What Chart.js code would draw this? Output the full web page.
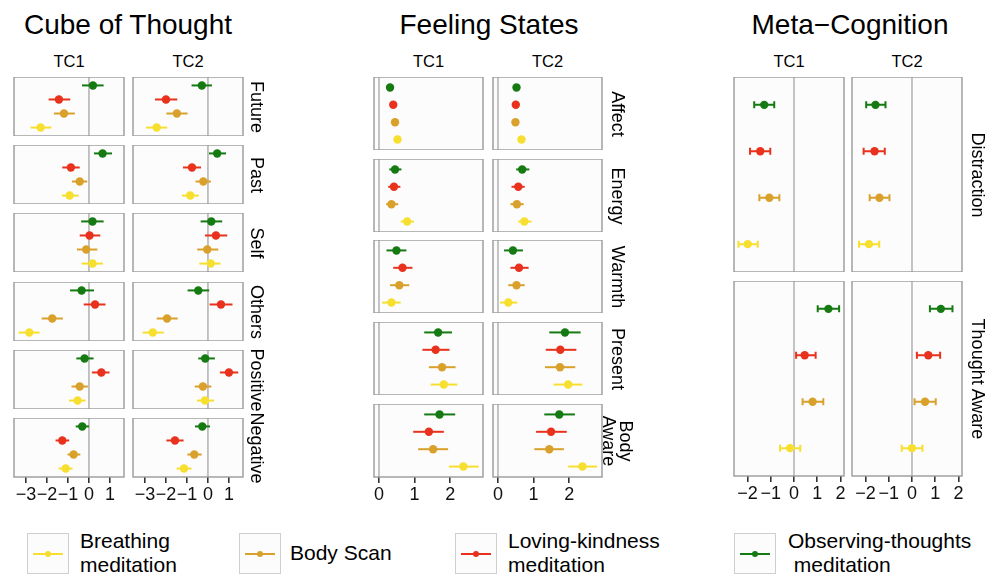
<!DOCTYPE html>
<html>
<head>
<meta charset="utf-8">
<script src="https://cdn.jsdelivr.net/npm/chart.js@4.4.0/dist/chart.umd.min.js"></script>
<style>
  body { margin: 0; background: #fff; font-family: "Liberation Sans", Arial, Helvetica, sans-serif; color: #000; }
  #fig { position: relative; width: 1005px; height: 580px; overflow: hidden; background: #fff; }
  #fig canvas { position: absolute; }
  .lbl { position: absolute; white-space: pre; line-height: 1; transform: translate(-50%, -50%); }
  .title { font-size: 28px; }
  .head { font-size: 16.5px; }
  .strip { font-size: 18px; line-height: 17px; text-align: center; transform: translate(-50%, -50%) rotate(90deg); }
  .key { position: absolute; width: 40px; height: 39px; border: 1px solid #cfcfcf; background: #fcfcfc; }
  .key .ln { position: absolute; left: 5px; right: 5px; top: 19px; height: 2px; }
  .key .dt { position: absolute; left: 17px; top: 17px; width: 6px; height: 6px; border-radius: 50%; }
  .ktext { position: absolute; font-size: 21px; line-height: 24px; white-space: pre; }
</style>
</head>
<body>
<div id="fig"></div>
<script>
// Meditation methods, bottom-to-top order inside each facet
const methods = ['Breathing meditation', 'Body Scan', 'Loving-kindness meditation', 'Observing-thoughts meditation'];
const methodKeys = ['Breathing\nmeditation', 'Body Scan', 'Loving-kindness\nmeditation', 'Observing-thoughts\n meditation'];
const methodColors = ['#f7df2f', '#d9a12b', '#e8321d', '#157a12'];

// Cube of Thought: rows x [Breathing, Body Scan, Loving-kindness, Observing-thoughts]
const cubeRows = ['Future', 'Past', 'Self', 'Others', 'Positive', 'Negative'];
const cubeTicks = [-3, -2, -1, 0, 1];
const cubeTC1Mean = [[-2.30, -1.19, -1.43, 0.19], [-0.92, -0.44, -0.86, 0.65], [0.17, -0.13, 0.03, 0.17],
  [-2.84, -1.75, 0.29, -0.35], [-0.54, -0.44, 0.59, -0.21], [-1.11, -0.73, -1.27, -0.32]];
const cubeTC1Low = [[-2.78, -1.67, -1.92, -0.33], [-1.29, -0.81, -1.27, 0.24], [-0.35, -0.57, -0.44, -0.37],
  [-3.35, -2.25, -0.25, -0.90], [-0.95, -0.83, 0.14, -0.60], [-1.44, -1.02, -1.59, -0.63]];
const cubeTC1High = [[-1.79, -0.67, -0.89, 0.70], [-0.49, -0.08, -0.44, 1.10], [0.67, 0.40, 0.54, 0.70],
  [-2.35, -1.24, 0.79, 0.24], [-0.16, -0.05, 0.98, 0.22], [-0.78, -0.41, -0.94, 0.00]];
const cubeTC2Mean = [[-2.44, -1.48, -2.00, -0.29], [-0.84, -0.22, -0.76, 0.44], [0.13, -0.03, 0.38, 0.16],
  [-2.63, -1.95, 0.62, -0.46], [-0.14, -0.24, 1.00, -0.13], [-1.14, -0.65, -1.57, -0.27]];
const cubeTC2Low = [[-2.95, -1.98, -2.52, -0.78], [-1.24, -0.59, -1.19, 0.05], [-0.41, -0.51, -0.14, -0.35],
  [-3.11, -2.44, 0.08, -0.97], [-0.52, -0.63, 0.57, -0.46], [-1.49, -0.98, -1.98, -0.62]];
const cubeTC2High = [[-1.94, -0.97, -1.46, 0.19], [-0.43, 0.14, -0.33, 0.86], [0.60, 0.49, 0.92, 0.68],
  [-2.10, -1.44, 1.17, 0.06], [0.29, 0.16, 1.44, 0.33], [-0.78, -0.30, -1.16, 0.10]];

// Feeling States
const feelRows = ['Affect', 'Energy', 'Warmth', 'Present', 'Body\nAware'];
const feelTicks = [0, 1, 2];
const feelTC1Mean = [[0.52, 0.45, 0.40, 0.31], [0.79, 0.35, 0.42, 0.45], [0.35, 0.57, 0.66, 0.49],
  [1.82, 1.77, 1.59, 1.66], [2.37, 1.52, 1.40, 1.70]];
const feelTC1Low = [[0.45, 0.38, 0.33, 0.24], [0.61, 0.20, 0.26, 0.29], [0.09, 0.31, 0.40, 0.21],
  [1.45, 1.40, 1.22, 1.27], [1.96, 1.10, 0.96, 1.27]];
const feelTC1High = [[0.59, 0.52, 0.47, 0.38], [0.98, 0.54, 0.60, 0.63], [0.61, 0.85, 0.94, 0.77],
  [2.20, 2.15, 1.98, 2.05], [2.80, 1.94, 1.82, 2.14]];
const feelTC2Mean = [[0.66, 0.49, 0.50, 0.52], [0.74, 0.53, 0.57, 0.68], [0.29, 0.52, 0.59, 0.42],
  [1.97, 1.74, 1.75, 1.88], [2.37, 1.44, 1.49, 1.72]];
const feelTC2Low = [[0.59, 0.42, 0.43, 0.45], [0.57, 0.35, 0.38, 0.51], [0.06, 0.29, 0.35, 0.17],
  [1.56, 1.32, 1.34, 1.44], [1.97, 1.02, 1.07, 1.30]];
const feelTC2High = [[0.73, 0.56, 0.57, 0.59], [0.94, 0.72, 0.75, 0.88], [0.54, 0.75, 0.86, 0.70],
  [2.37, 2.17, 2.20, 2.32], [2.78, 1.85, 1.93, 2.16]];

// Meta-Cognition
const metaRows = ['Distraction', 'Thought Aware'];
const metaTicks = [-2, -1, 0, 1, 2];
const metaTC1Mean = [[-1.99, -1.06, -1.45, -1.28], [-0.17, 0.80, 0.46, 1.48]];
const metaTC1Low = [[-2.39, -1.49, -1.89, -1.71], [-0.60, 0.37, 0.09, 1.02]];
const metaTC1High = [[-1.56, -0.63, -1.02, -0.85], [0.27, 1.26, 0.93, 1.94]];
const metaTC2Mean = [[-1.85, -1.40, -1.61, -1.57], [0.00, 0.56, 0.70, 1.24]];
const metaTC2Low = [[-2.28, -1.82, -2.08, -1.97], [-0.44, 0.11, 0.21, 0.77]];
const metaTC2High = [[-1.41, -0.97, -1.17, -1.14], [0.45, 1.02, 1.21, 1.74]];

const FONT = '"Liberation Sans", Arial, Helvetica, sans-serif';
const AXIS_H = 32;
const PAD = 16;
const fig = document.getElementById('fig');

// draws panel background, zero line, error bars and frame
const facetPlugin = {
  id: 'facet',
  beforeDatasetsDraw(chart, args, opts) {
    const { ctx, chartArea: a, scales } = chart;
    ctx.save();
    ctx.fillStyle = '#fcfcfc';
    ctx.fillRect(a.left, a.top, a.right - a.left, a.bottom - a.top);
    const zx = scales.x.getPixelForValue(0);
    ctx.strokeStyle = '#b5b5b5';
    ctx.lineWidth = 1.6;
    ctx.beginPath();
    ctx.moveTo(zx, a.top);
    ctx.lineTo(zx, a.bottom);
    ctx.stroke();
    chart.data.datasets.forEach(ds => {
      const pt = ds.data[0];
      const y = scales.y.getPixelForValue(pt.y);
      const x1 = scales.x.getPixelForValue(pt.lo);
      const x2 = scales.x.getPixelForValue(pt.hi);
      ctx.strokeStyle = ds.borderColor;
      ctx.lineWidth = 2;
      ctx.beginPath();
      ctx.moveTo(x1, y);
      ctx.lineTo(x2, y);
      if (opts.caps) {
        ctx.moveTo(x1, y - 3.5); ctx.lineTo(x1, y + 3.5);
        ctx.moveTo(x2, y - 3.5); ctx.lineTo(x2, y + 3.5);
      }
      ctx.stroke();
    });
    ctx.restore();
  },
  afterDraw(chart) {
    const { ctx, chartArea: a } = chart;
    ctx.save();
    ctx.strokeStyle = '#9a9a9a';
    ctx.lineWidth = 1.4;
    ctx.strokeRect(a.left, a.top, a.right - a.left, a.bottom - a.top);
    ctx.restore();
  }
};

const facetChart = (left, top, w, h, range, ticks, mean, lo, hi, showAxis, caps) => {
  const canvas = document.createElement('canvas');
  const W = w + 2 * PAD;
  const H = h + (showAxis ? AXIS_H : 0);
  canvas.width = W; canvas.height = H;
  canvas.style.width = W + 'px'; canvas.style.height = H + 'px';
  canvas.style.left = (left - PAD) + 'px';
  canvas.style.top = top + 'px';
  fig.appendChild(canvas);
  return new Chart(canvas, {
    type: 'scatter',
    data: {
      datasets: methods.map((m, i) => ({
        label: m,
        data: [{ x: mean[i], y: i + 1, lo: lo[i], hi: hi[i] }],
        backgroundColor: methodColors[i],
        borderColor: methodColors[i],
        pointRadius: 4.2,
        pointBorderWidth: 0
      }))
    },
    options: {
      responsive: false,
      animation: false,
      events: [],
      layout: { padding: { left: PAD, right: PAD, top: 0, bottom: 0 }, autoPadding: false },
      plugins: { legend: { display: false }, tooltip: { enabled: false }, facet: { caps } },
      scales: {
        x: {
          type: 'linear', min: range[0], max: range[1], display: showAxis,
          afterBuildTicks: s => { s.ticks = ticks.map(v => ({ value: v })); },
          afterFit: s => { s.height = showAxis ? AXIS_H : 0; },
          grid: { drawOnChartArea: false, drawTicks: true, tickLength: 6, color: '#333', lineWidth: 1.6 },
          border: { display: false },
          ticks: {
            font: { size: 18, family: FONT }, color: '#111', padding: 1,
            maxRotation: 0, autoSkip: false,
            callback: v => String(v).replace('-', '\u2212')
          }
        },
        y: { type: 'linear', min: 0.4, max: 4.6, display: false, afterFit: s => { s.width = 0; } }
      }
    },
    plugins: [facetPlugin]
  });
};

const addText = (cls, text, cx, cy) => {
  const d = document.createElement('div');
  d.className = 'lbl ' + cls;
  d.textContent = text;
  d.style.left = cx + 'px';
  d.style.top = cy + 'px';
  fig.appendChild(d);
};

const panels = [
  { title: 'Cube of Thought', tx: 128, rows: cubeRows, ticks: cubeTicks, range: [-3.57, 1.67],
    cols: [14, 133], w: 110, top: 77, h: 59, step: 68.2, stripX: 256, caps: false,
    tc: [[cubeTC1Mean, cubeTC1Low, cubeTC1High], [cubeTC2Mean, cubeTC2Low, cubeTC2High]] },
  { title: 'Feeling States', tx: 489, rows: feelRows, ticks: feelTicks, range: [-0.14, 2.92],
    cols: [374, 493], w: 109, top: 77, h: 73, step: 81.65, stripX: 617, caps: false,
    tc: [[feelTC1Mean, feelTC1Low, feelTC1High], [feelTC2Mean, feelTC2Low, feelTC2High]] },
  { title: 'Meta\u2212Cognition', tx: 850, rows: metaRows, ticks: metaTicks, range: [-2.58, 2.15],
    cols: [734, 852], w: 110, top: 77, h: 195, step: 204.3, stripX: 977, caps: true,
    tc: [[metaTC1Mean, metaTC1Low, metaTC1High], [metaTC2Mean, metaTC2Low, metaTC2High]] }
];

panels.forEach(p => {
  addText('title', p.title, p.tx, 25);
  p.cols.forEach((cl, c) => {
    addText('head', 'TC' + (c + 1), cl + p.w / 2, 61);
    const [mean, lo, hi] = p.tc[c];
    p.rows.forEach((r, k) => {
      const top = Math.round(p.top + k * p.step);
      facetChart(cl, top, p.w, p.h, p.range, p.ticks, mean[k], lo[k], hi[k], k === p.rows.length - 1, p.caps);
    });
  });
  p.rows.forEach((r, k) => {
    addText('strip', r, p.stripX, Math.round(p.top + k * p.step) + p.h / 2);
  });
});

// legend
const keyLeft = [27, 239, 455, 734];
const keyTextLeft = [80, 290, 508, 788];
methods.forEach((m, i) => {
  const k = document.createElement('div');
  k.className = 'key';
  k.style.left = keyLeft[i] + 'px';
  k.style.top = '533px';
  k.innerHTML = '<div class="ln" style="background:' + methodColors[i] + '"></div>' +
    '<div class="dt" style="background:' + methodColors[i] + '"></div>';
  fig.appendChild(k);
  const t = document.createElement('div');
  t.className = 'ktext';
  t.textContent = methodKeys[i];
  t.style.left = keyTextLeft[i] + 'px';
  const lines = methodKeys[i].split('\n').length;
  t.style.top = (553 - lines * 12) + 'px';
  fig.appendChild(t);
});
</script>
</body>
</html>
